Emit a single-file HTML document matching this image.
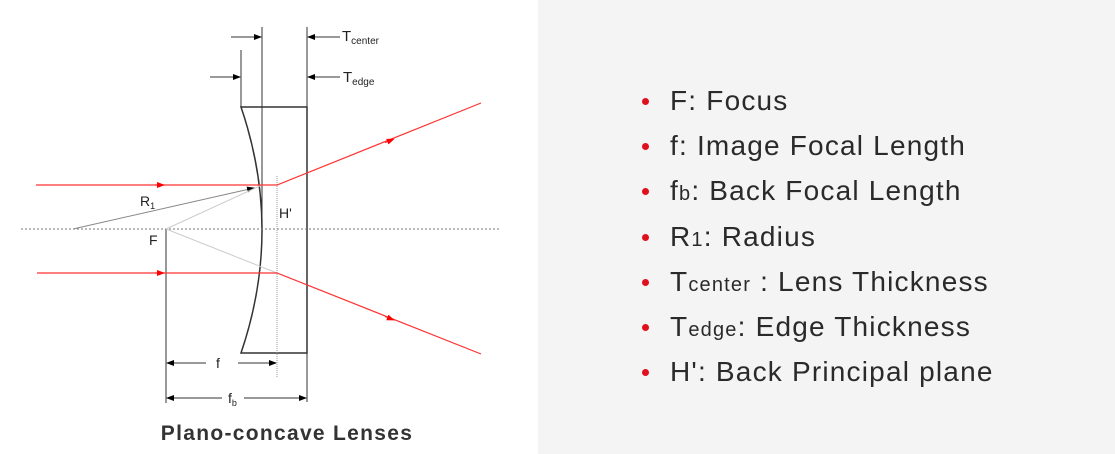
<!DOCTYPE html>
<html><head><style>
body{margin:0;width:1115px;height:454px;background:#fff;overflow:hidden;position:relative;font-family:"Liberation Sans",sans-serif}
#panel{position:absolute;left:538px;top:0;width:577px;height:454px;background:#f4f4f4}
ul{position:absolute;left:638px;top:78px;margin:0;padding:0;list-style:none}
li{height:45.2px;line-height:45px;font-size:28px;letter-spacing:1.2px;color:#2a2a2a;position:relative;padding-left:32px;white-space:nowrap}
li:before{content:"";position:absolute;left:4px;top:20px;width:7px;height:7px;border-radius:50%;background:#e0101e}
small{font-size:20px}
</style></head><body>
<div id="panel"></div>
<svg width="540" height="454" style="position:absolute;left:0;top:0" font-family="Liberation Sans,sans-serif">
<defs>
<marker id="a" markerWidth="8" markerHeight="8" refX="7" refY="4" orient="auto" markerUnits="userSpaceOnUse"><path d="M0,1 L8,4 L0,7z" fill="#000"/></marker>
<marker id="r" markerWidth="8" markerHeight="8" refX="4" refY="4" orient="auto" markerUnits="userSpaceOnUse"><path d="M0,1 L8,4 L0,7z" fill="#f00"/></marker>
</defs>
<g stroke="#333" stroke-width="1" fill="none">
<line x1="262" y1="27" x2="262" y2="229"/>
<line x1="307" y1="27" x2="307" y2="402"/>
<line x1="241" y1="50" x2="241" y2="107"/>
<line x1="166" y1="229" x2="166" y2="403"/>
<line x1="231" y1="37" x2="261" y2="37" marker-end="url(#a)"/>
<line x1="340" y1="37" x2="308" y2="37" marker-end="url(#a)"/>
<line x1="210" y1="77" x2="240" y2="77" marker-end="url(#a)"/>
<line x1="340" y1="77" x2="308" y2="77" marker-end="url(#a)"/>
<path d="M241,107 L307,107 L307,353 L241,353 Q283,230 241,107z" stroke-width="1.5"/>
<line x1="206" y1="363" x2="167" y2="363" marker-end="url(#a)"/>
<line x1="238" y1="363" x2="276" y2="363" marker-end="url(#a)"/>
<line x1="222" y1="398" x2="167" y2="398" marker-end="url(#a)"/>
<line x1="244" y1="398" x2="306" y2="398" marker-end="url(#a)"/>
</g>
<line x1="21" y1="229" x2="500" y2="229" stroke="#777" stroke-dasharray="2,2"/>
<line x1="277" y1="176" x2="277" y2="377" stroke="#999" stroke-dasharray="1,1"/>
<line x1="73" y1="229" x2="254" y2="188" stroke="#888" marker-end="url(#a)"/>
<line x1="166" y1="229" x2="262" y2="185" stroke="#ccc"/>
<line x1="166" y1="229" x2="277" y2="273" stroke="#ccc"/>
<g stroke="#f33" fill="none" stroke-width="1.2">
<polyline points="36,185 277,185 481,103"/>
<polyline points="37,273 277,273 481,354"/>
<line x1="155" y1="185" x2="161" y2="185" marker-end="url(#r)"/>
<line x1="155" y1="273" x2="161" y2="273" marker-end="url(#r)"/>
<line x1="385" y1="142.6" x2="391" y2="140.2" marker-end="url(#r)"/>
<line x1="385" y1="316.5" x2="391" y2="318.9" marker-end="url(#r)"/>
</g>
<g fill="#222" font-size="14">
<text x="342" y="41" font-size="15">T<tspan font-size="10" dy="3">center</tspan></text>
<text x="343" y="82" font-size="15">T<tspan font-size="10" dy="3">edge</tspan></text>
<text x="140" y="206">R<tspan font-size="9" dy="3">1</tspan></text>
<text x="279" y="218">H'</text>
<text x="149" y="245">F</text>
<text x="216" y="368">f</text>
<text x="228" y="403">f<tspan font-size="9" dy="3">b</tspan></text>
<text x="287" y="440" text-anchor="middle" font-size="21" letter-spacing="1.3" font-weight="bold" fill="#333">Plano-concave Lenses</text>
</g>
</svg>
<ul>
<li>F: Focus</li>
<li>f: Image Focal Length</li>
<li>f<small>b</small>: Back Focal Length</li>
<li>R<small>1</small>: Radius</li>
<li>T<small>center</small> : Lens Thickness</li>
<li>T<small>edge</small>: Edge Thickness</li>
<li>H': Back Principal plane</li>
</ul>
</body></html>
